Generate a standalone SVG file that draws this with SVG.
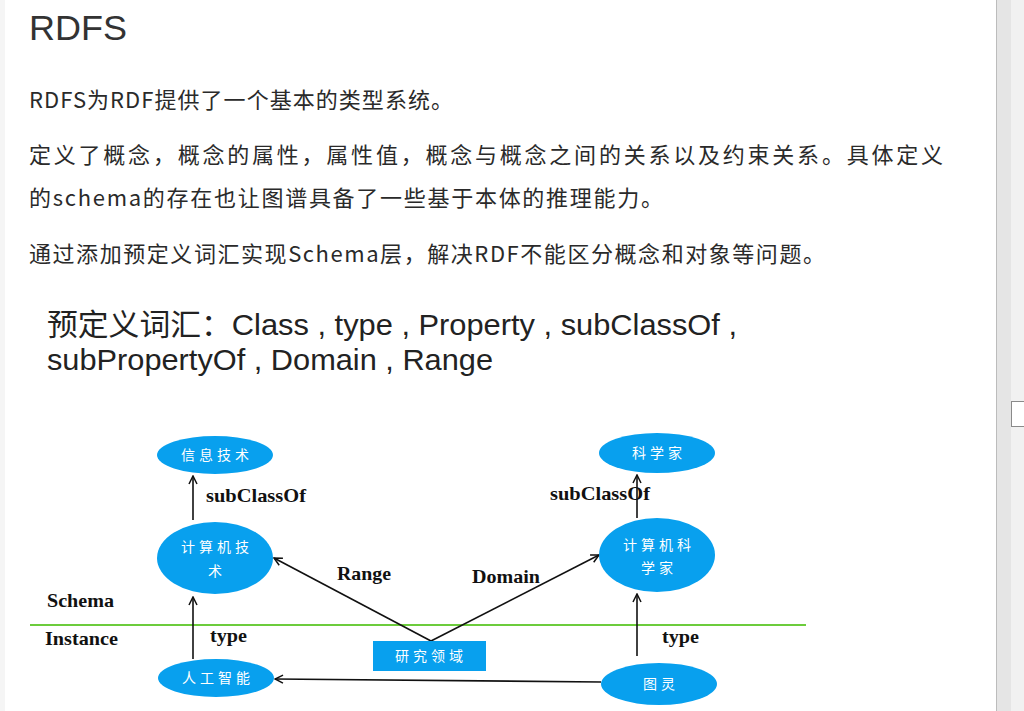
<svg xmlns="http://www.w3.org/2000/svg" width="1024" height="711" viewBox="0 0 1024 711">
<style>
.body{font-family:"Noto Sans CJK SC","Liberation Sans",sans-serif;font-size:22px;fill:#2a2a2a}
.big{font-family:"Liberation Sans","Noto Sans CJK SC",sans-serif;font-size:30px;fill:#222}
.lbl{font-family:"Liberation Serif","Noto Sans CJK SC",serif;font-weight:bold;font-size:19px;fill:#111}
.node{fill:#08a0ee}
.nt{font-family:"Noto Sans CJK SC",sans-serif;font-size:14px;fill:#fff;text-anchor:middle;letter-spacing:4px}
.edge{stroke:#111;stroke-width:1.6;fill:none;marker-end:url(#arr)}
</style>
<defs>
<marker id="arr" markerWidth="10" markerHeight="10" refX="9" refY="5" orient="auto" markerUnits="userSpaceOnUse">
<path d="M1,1 L9,5 L1,9" fill="none" stroke="#111" stroke-width="1.5"/>
</marker>
</defs>
<rect width="1024" height="711" fill="#fff"/>
<rect x="0" y="0" width="5" height="711" fill="#f5f5f5"/>
<!-- scrollbar -->
<rect x="996" y="0" width="1" height="711" fill="#bcbcbc"/>
<rect x="997" y="0" width="14" height="711" fill="#e5e5e5"/>
<rect x="1011" y="0" width="13" height="711" fill="#f1f1f1"/>
<rect x="1011.5" y="401.5" width="14" height="25" fill="#fff" stroke="#8a8a8a"/>

<text x="29" y="40" font-family="Liberation Sans,sans-serif" font-size="35" fill="#333" textLength="98" lengthAdjust="spacingAndGlyphs">RDFS</text>
<text class="body" x="29" y="108" textLength="424" lengthAdjust="spacing">RDFS为RDF提供了一个基本的类型系统。</text>
<text class="body" x="29" y="163" textLength="914" lengthAdjust="spacing">定义了概念，概念的属性，属性值，概念与概念之间的关系以及约束关系。具体定义</text>
<text class="body" x="29" y="206" textLength="634" lengthAdjust="spacing">的schema的存在也让图谱具备了一些基于本体的推理能力。</text>
<text class="body" x="29" y="262" textLength="796" lengthAdjust="spacing">通过添加预定义词汇实现Schema层，解决RDF不能区分概念和对象等问题。</text>
<text class="big" x="47" y="335" textLength="690" lengthAdjust="spacingAndGlyphs">预定义词汇：Class , type , Property , subClassOf ,</text>
<text class="big" x="47" y="370" textLength="446" lengthAdjust="spacingAndGlyphs">subPropertyOf , Domain , Range</text>

<!-- layer divider -->
<line x1="30" y1="625" x2="806" y2="625" stroke="#6ccc3c" stroke-width="2.2"/>
<text class="lbl" x="47" y="607" textLength="67" lengthAdjust="spacingAndGlyphs">Schema</text>
<text class="lbl" x="45" y="645" textLength="73" lengthAdjust="spacingAndGlyphs">Instance</text>

<g id="connectors">
<line class="edge" x1="193" y1="520" x2="193" y2="476"/>
<line class="edge" x1="637" y1="518" x2="637" y2="475"/>
<line class="edge" x1="193" y1="659" x2="193" y2="597"/>
<line class="edge" x1="637" y1="656" x2="637" y2="594"/>
<line class="edge" x1="431" y1="641" x2="274" y2="558"/>
<line class="edge" x1="431" y1="641" x2="599" y2="555"/>
<line class="edge" x1="601" y1="682" x2="275" y2="679"/>
<text class="lbl" x="206" y="502" textLength="100" lengthAdjust="spacingAndGlyphs">subClassOf</text>
<text class="lbl" x="550" y="500" textLength="100" lengthAdjust="spacingAndGlyphs">subClassOf</text>
<text class="lbl" x="337" y="580" textLength="54" lengthAdjust="spacingAndGlyphs">Range</text>
<text class="lbl" x="472" y="583" textLength="68" lengthAdjust="spacingAndGlyphs">Domain</text>
<text class="lbl" x="210" y="642" textLength="37" lengthAdjust="spacingAndGlyphs">type</text>
<text class="lbl" x="662" y="643" textLength="37" lengthAdjust="spacingAndGlyphs">type</text>
</g>

<g id="n-xinxijishu">
<ellipse class="node" cx="215" cy="455" rx="58" ry="19"/>
<text class="nt" x="217" y="460">信息技术</text>
</g>
<g id="n-jisuanjijishu">
<ellipse class="node" cx="215" cy="558" rx="58" ry="36"/>
<text class="nt" x="217" y="552">计算机技</text>
<text class="nt" x="217" y="576">术</text>
</g>
<g id="n-kexuejia">
<ellipse class="node" cx="657" cy="453" rx="58" ry="20"/>
<text class="nt" x="659" y="458">科学家</text>
</g>
<g id="n-jisuanjikexuejia">
<ellipse class="node" cx="657" cy="555" rx="58" ry="37"/>
<text class="nt" x="659" y="550">计算机科</text>
<text class="nt" x="659" y="573">学家</text>
</g>
<g id="n-yanjiulingyu">
<rect class="node" x="373" y="641" width="113" height="30"/>
<text class="nt" x="431" y="661">研究领域</text>
</g>
<g id="n-rengongzhineng">
<ellipse class="node" cx="216" cy="678" rx="58" ry="19"/>
<text class="nt" x="218" y="683">人工智能</text>
</g>
<g id="n-tuling">
<ellipse class="node" cx="659" cy="684" rx="58" ry="21"/>
<text class="nt" x="661" y="689">图灵</text>
</g>
</svg>
